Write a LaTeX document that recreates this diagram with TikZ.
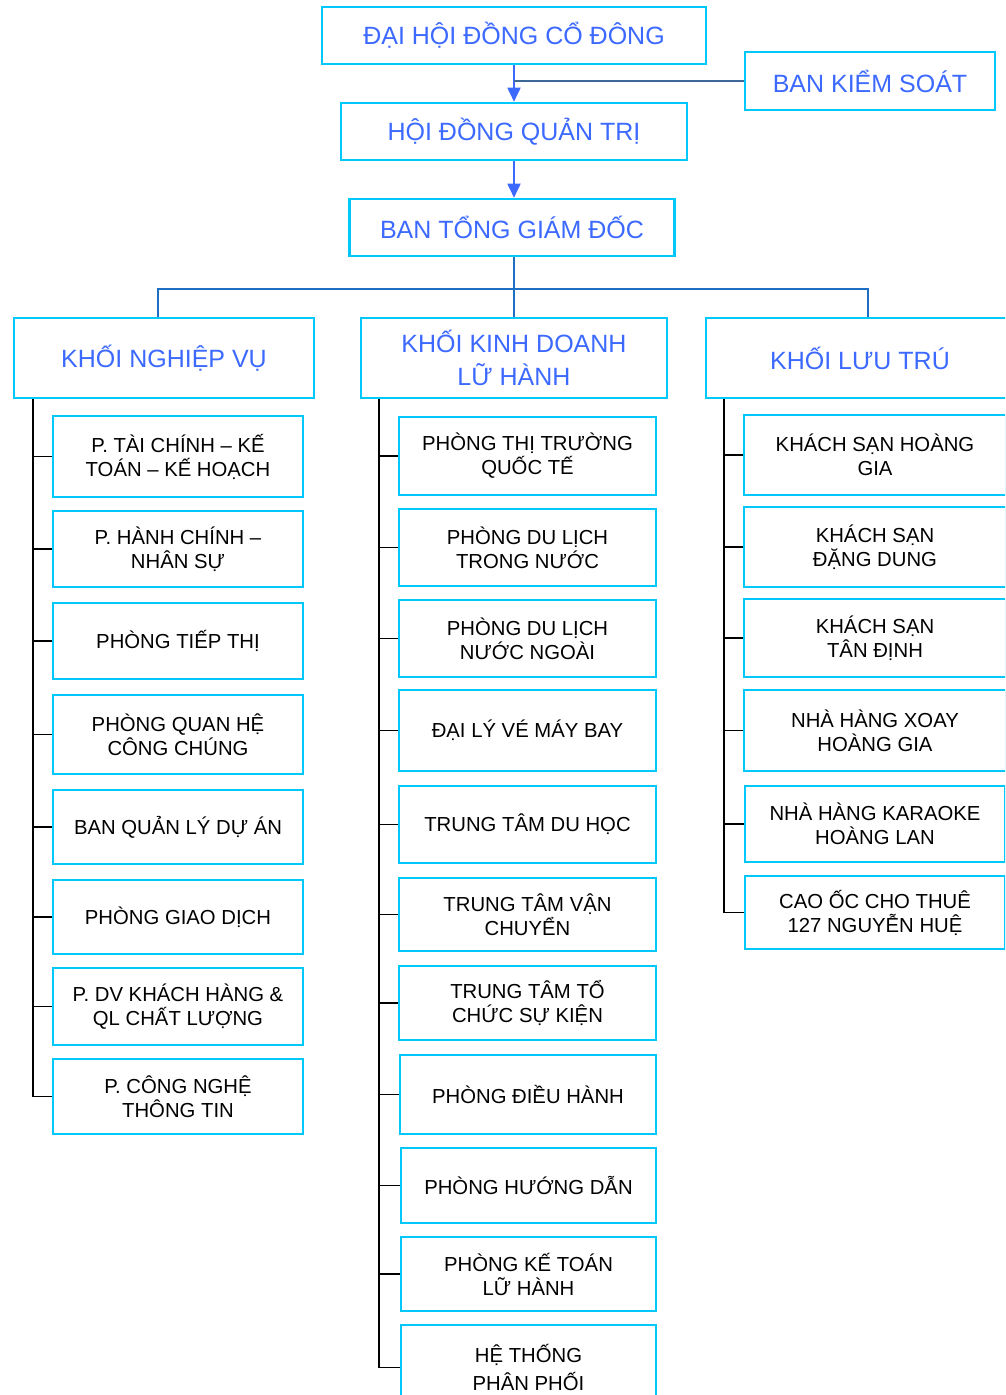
\documentclass[tikz,border=0pt]{standalone}
\usepackage{fontspec}
\setmainfont{Liberation Sans}
\usetikzlibrary{arrows.meta}
\definecolor{boxcyan}{RGB}{0,200,250}
\definecolor{headblue}{RGB}{60,105,255}
\definecolor{treeblue}{RGB}{30,110,195}
\definecolor{linkgray}{RGB}{60,105,150}

\begin{document}
\begin{tikzpicture}[x=1pt,y=-1pt,
 box/.style={draw=boxcyan,line width=2.6pt,align=center,inner sep=0pt},
 head/.style={box,text=headblue,font=\fontsize{25}{33}\selectfont},
 unit/.style={box,font=\fontsize{20.3}{24}\selectfont},
 arr/.style={draw=headblue,line width=1.8pt,-{Triangle[length=14pt,width=13pt]}},
 tree/.style={draw=treeblue,line width=1.8pt},
 stem/.style={draw=black,line width=1.6pt}]
\useasboundingbox (0,0) rectangle (1005,1395);
\clip (0,0) rectangle (1005,1395);
% top levels
\node[head,minimum width=384,minimum height=57] (dh) at (514,35.5) {ĐẠI HỘI ĐỒNG CỔ ĐÔNG};
\node[head,minimum width=250,minimum height=58] (bks) at (870,81) {BAN KIỂM SOÁT};
\node[head,minimum width=346,minimum height=57] (hd) at (514,131.5) {HỘI ĐỒNG QUẢN TRỊ};
\node[head,minimum width=325,minimum height=57] (tgd) at (512,227.5) {BAN TỔNG GIÁM ĐỐC};
\draw[arr] (dh.south) -- (hd.north); \draw[arr] (hd.south) -- (hd.south |- tgd.north);
\draw[draw=linkgray,line width=1.8pt] (bks.west) -- (dh.south |- bks.west);
% blocks
\node[head,minimum width=300,minimum height=80] (knv) at (164,358) {KHỐI NGHIỆP VỤ};
\node[head,minimum width=306,minimum height=80] (kkd) at (514,358) {KHỐI KINH DOANH\\LỮ HÀNH};
\node[head,minimum width=308,minimum height=80] (klt) at (860,358) {KHỐI LƯU TRÚ};
\coordinate (fork) at (514,289);
\draw[tree] (fork |- tgd.south) -- (fork); \draw[tree] (fork) -- (kkd.north);
\draw[tree] ([xshift=-6pt]knv.north) |- (fork) -| ([xshift=8pt]klt.north);
% khoi nghiep vu
\node[unit,minimum width=250,minimum height=81] (p1) at (178,456.5) {P. TÀI CHÍNH – KẾ\\TOÁN – KẾ HOẠCH};
\node[unit,minimum width=250,minimum height=76] (p2) at (178,549) {P. HÀNH CHÍNH –\\NHÂN SỰ};
\node[unit,minimum width=250,minimum height=76] (p3) at (178,641) {PHÒNG TIẾP THỊ};
\node[unit,minimum width=250,minimum height=79] (p4) at (178,734.5) {PHÒNG QUAN HỆ\\CÔNG CHÚNG};
\node[unit,minimum width=250,minimum height=74] (p5) at (178,827) {BAN QUẢN LÝ DỰ ÁN};
\node[unit,minimum width=250,minimum height=74] (p6) at (178,917) {PHÒNG GIAO DỊCH};
\node[unit,minimum width=250,minimum height=77] (p7) at (178,1006.5) {P. DV KHÁCH HÀNG \&\\QL CHẤT LƯỢNG};
\node[unit,minimum width=250,minimum height=75] (p8) at (178,1096.5) {P. CÔNG NGHỆ\\THÔNG TIN};
\draw[stem] ([xshift=20pt]knv.south west) |- (p8.west);
\draw[stem] ([xshift=20pt]knv.south west) |- (p1.west); \draw[stem] ([xshift=20pt]knv.south west) |- (p2.west);
\draw[stem] ([xshift=20pt]knv.south west) |- (p3.west); \draw[stem] ([xshift=20pt]knv.south west) |- (p4.west);
\draw[stem] ([xshift=20pt]knv.south west) |- (p5.west); \draw[stem] ([xshift=20pt]knv.south west) |- (p6.west);
\draw[stem] ([xshift=20pt]knv.south west) |- (p7.west);
% khoi kinh doanh lu hanh
\node[unit,minimum width=257,minimum height=78] (k1) at (527.5,456) {PHÒNG THỊ TRƯỜNG\\QUỐC TẾ};
\node[unit,minimum width=257,minimum height=77] (k2) at (527.5,547.5) {PHÒNG DU LỊCH\\TRONG NƯỚC};
\node[unit,minimum width=257,minimum height=77] (k3) at (527.5,638.5) {PHÒNG DU LỊCH\\NƯỚC NGOÀI};
\node[unit,minimum width=257,minimum height=81] (k4) at (527.5,730.5) {ĐẠI LÝ VÉ MÁY BAY};
\node[unit,minimum width=257,minimum height=77] (k5) at (527.5,824.5) {TRUNG TÂM DU HỌC};
\node[unit,minimum width=257,minimum height=73] (k6) at (527.5,914.5) {TRUNG TÂM VẬN\\CHUYỂN};
\node[unit,minimum width=257,minimum height=74] (k7) at (527.5,1003) {TRUNG TÂM TỔ\\CHỨC SỰ KIỆN};
\node[unit,minimum width=256,minimum height=79] (k8) at (528,1094.5) {PHÒNG ĐIỀU HÀNH};
\node[unit,minimum width=255,minimum height=75] (k9) at (528.5,1185.5) {PHÒNG HƯỚNG DẪN};
\node[unit,minimum width=255,minimum height=74] (k10) at (528.5,1274) {PHÒNG KẾ TOÁN\\LỮ HÀNH};
\node[unit,minimum width=255,minimum height=85,font=\fontsize{20.3}{28}\selectfont] (k11) at (528.5,1367.5) {HỆ THỐNG\\PHÂN PHỐI};
\draw[stem] ([xshift=19pt]kkd.south west) |- (k11.west);
\draw[stem] ([xshift=19pt]kkd.south west) |- (k1.west); \draw[stem] ([xshift=19pt]kkd.south west) |- (k2.west);
\draw[stem] ([xshift=19pt]kkd.south west) |- (k3.west); \draw[stem] ([xshift=19pt]kkd.south west) |- (k4.west);
\draw[stem] ([xshift=19pt]kkd.south west) |- (k5.west); \draw[stem] ([xshift=19pt]kkd.south west) |- (k6.west);
\draw[stem] ([xshift=19pt]kkd.south west) |- (k7.west); \draw[stem] ([xshift=19pt]kkd.south west) |- (k8.west);
\draw[stem] ([xshift=19pt]kkd.south west) |- (k9.west); \draw[stem] ([xshift=19pt]kkd.south west) |- (k10.west);
% khoi luu tru
\node[unit,minimum width=262,minimum height=80] (l1) at (875,455) {KHÁCH SẠN HOÀNG\\GIA};
\node[unit,minimum width=262,minimum height=80] (l2) at (875,547) {KHÁCH SẠN\\ĐẶNG DUNG};
\node[unit,minimum width=262,minimum height=78] (l3) at (875,638) {KHÁCH SẠN\\TÂN ĐỊNH};
\node[unit,minimum width=262,minimum height=81] (l4) at (875,730.5) {NHÀ HÀNG XOAY\\HOÀNG GIA};
\node[unit,minimum width=260,minimum height=76] (l5) at (875,824) {NHÀ HÀNG KARAOKE\\HOÀNG LAN};
\node[unit,minimum width=260,minimum height=73] (l6) at (875,912.5) {CAO ỐC CHO THUÊ\\127 NGUYỄN HUỆ};
\draw[stem] ([xshift=19pt]klt.south west) |- (l6.west);
\draw[stem] ([xshift=19pt]klt.south west) |- (l1.west); \draw[stem] ([xshift=19pt]klt.south west) |- (l2.west);
\draw[stem] ([xshift=19pt]klt.south west) |- (l3.west); \draw[stem] ([xshift=19pt]klt.south west) |- (l4.west);
\draw[stem] ([xshift=19pt]klt.south west) |- (l5.west);
\end{tikzpicture}
\end{document}
